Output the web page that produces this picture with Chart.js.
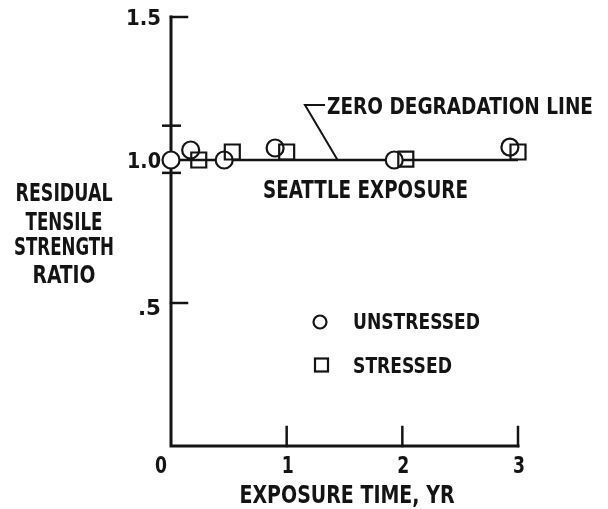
<!DOCTYPE html>
<html><head><meta charset="utf-8">
<script src="https://cdn.jsdelivr.net/npm/chart.js@4"></script>
<style>html,body{margin:0;padding:0;background:#fff}#wrap{width:608px;height:509px;position:relative}</style>
</head><body><div id="wrap"><canvas id="c" width="608" height="509"></canvas></div>
<script>
// ---- data ----
const unstressedX = [0, 0.17, 0.46, 0.90, 1.93, 2.93];
const unstressedY = [1.0, 1.035, 1.0, 1.042, 1.0, 1.045];
const stressedX = [0.24, 0.53, 1.0, 2.03, 3.0];
const stressedY = [1.0, 1.028, 1.028, 1.003, 1.028];
const zeroLineX = [0, 3];
const zeroLineY = [1.0, 1.0];
const xTickValues = [0, 1, 2, 3];
const xTickLabels = ['0', '1', '2', '3'];
const yTickValues = [0.5, 1.0, 1.5];
const yTickLabels = ['.5', '1.0', '1.5'];
const errBarX = 0;
const errBarLow = 0.955;
const errBarHigh = 1.12;
const yTitleLines = ['RESIDUAL', 'TENSILE', 'STRENGTH', 'RATIO'];
const xTitle = 'EXPOSURE TIME, YR';
const annotationText = 'ZERO DEGRADATION LINE';
const annotationAtX = 1.44;
const subtitleText = 'SEATTLE EXPOSURE';
const legendLabels = ['UNSTRESSED', 'STRESSED'];

const INK = '#141414';
const FAM = '"Liberation Sans Narrow", "DejaVu Sans Condensed", sans-serif';

function txt(ctx, s, x, cy, w, align, size) {
  ctx.save();
  ctx.font = 'bold ' + size + 'px ' + FAM;
  const m = ctx.measureText(s).width;
  const sx = w / m;
  ctx.translate(x, cy + size * 0.36);
  ctx.scale(sx, 1);
  ctx.textAlign = align;
  ctx.textBaseline = 'alphabetic';
  ctx.fillStyle = INK;
  ctx.fillText(s, 0, 0);
  ctx.restore();
}

const drawPlugin = {
  id: 'handDrawn',
  beforeDatasetsDraw(chart) {
    const ctx = chart.ctx, xs = chart.scales.x, ys = chart.scales.y;
    const x0 = xs.getPixelForValue(0), y0 = ys.getPixelForValue(0);
    const xMax = xs.getPixelForValue(xs.max), yMax = ys.getPixelForValue(ys.max);
    ctx.save();
    ctx.strokeStyle = INK; ctx.lineCap = 'square';
    ctx.lineWidth = 3;
    ctx.beginPath();
    ctx.moveTo(x0, yMax); ctx.lineTo(x0, y0); ctx.lineTo(xMax, y0);
    ctx.stroke();
    // y ticks pointing right
    ctx.lineWidth = 2.5;
    yTickValues.forEach(v => {
      if (v === 1.0) return;
      const py = ys.getPixelForValue(v);
      ctx.beginPath(); ctx.moveTo(x0, py); ctx.lineTo(x0 + 16, py); ctx.stroke();
    });
    // x ticks pointing up
    xTickValues.forEach(v => {
      if (v === 0) return;
      const px = xs.getPixelForValue(v);
      ctx.beginPath(); ctx.moveTo(px, y0); ctx.lineTo(px, y0 - 19); ctx.stroke();
    });
    // error bar at x=0
    const ex = xs.getPixelForValue(errBarX);
    ctx.lineWidth = 2.5; ctx.lineCap = 'butt';
    [errBarLow, errBarHigh].forEach(v => {
      const py = ys.getPixelForValue(v);
      ctx.beginPath(); ctx.moveTo(ex - 9, py); ctx.lineTo(ex + 10, py); ctx.stroke();
    });
    // leader line for annotation
    const lx = xs.getPixelForValue(annotationAtX), ly = ys.getPixelForValue(zeroLineY[0]);
    ctx.lineWidth = 2;
    ctx.beginPath();
    ctx.moveTo(325, 105); ctx.lineTo(305, 105); ctx.lineTo(lx, ly);
    ctx.stroke();
    ctx.restore();
  },
  afterDraw(chart) {
    const ctx = chart.ctx, xs = chart.scales.x, ys = chart.scales.y;
    // y tick labels
    const yW = {'.5': 23, '1.0': 34, '1.5': 35};
    yTickValues.forEach((v, i) => {
      const py = ys.getPixelForValue(v);
      txt(ctx, yTickLabels[i], 161, py + (v === 0.5 ? 4 : 0), yW[yTickLabels[i]], 'right', 22);
    });
    // x tick labels
    xTickValues.forEach((v, i) => {
      const px = xs.getPixelForValue(v) + (v === 0 ? -10 : 1);
      txt(ctx, xTickLabels[i], px, 465, 12, 'center', 23);
    });
    // axis titles
    txt(ctx, xTitle, 347, 494, 215, 'center', 24);
    const yc = [192, 221, 246, 274], yw = [97, 77, 100, 63];
    yTitleLines.forEach((s, i) => txt(ctx, s, 64, yc[i], yw[i], 'center', 24));
    // annotation + subtitle
    txt(ctx, annotationText, 327, 106, 266, 'left', 23);
    txt(ctx, subtitleText, 263, 189, 205, 'left', 24);
    // legend
    ctx.save();
    ctx.strokeStyle = INK; ctx.lineWidth = 2.2;
    ctx.beginPath(); ctx.arc(320, 322, 6.5, 0, Math.PI * 2); ctx.stroke();
    ctx.strokeRect(315, 358.5, 13, 13);
    ctx.restore();
    txt(ctx, legendLabels[0], 353, 321, 127, 'left', 22);
    txt(ctx, legendLabels[1], 353, 365, 99, 'left', 22);
  }
};

const toPts = (xs, ys) => xs.map((x, i) => ({x: x, y: ys[i]}));

new Chart(document.getElementById('c'), {
  type: 'scatter',
  data: {
    datasets: [
      {
        label: legendLabels[1], data: toPts(stressedX, stressedY),
        pointStyle: 'rect', pointRadius: 10.6, pointHoverRadius: 10.6,
        borderColor: INK, backgroundColor: 'rgba(0,0,0,0)', borderWidth: 2.2,
        showLine: false, clip: false
      },
      {
        label: legendLabels[0], data: toPts(unstressedX, unstressedY),
        pointStyle: 'circle', pointRadius: 8.5, pointHoverRadius: 8.5,
        borderColor: INK, backgroundColor: '#fff', borderWidth: 2.2,
        showLine: false, clip: false
      },
      {
        label: annotationText, data: toPts(zeroLineX, zeroLineY),
        showLine: true, pointRadius: 0, borderColor: INK, borderWidth: 2.5,
        clip: false
      }
    ]
  },
  options: {
    responsive: false, animation: false,
    layout: {padding: {left: 171, right: 90, top: 17, bottom: 63}},
    scales: {
      x: {type: 'linear', min: 0, max: 3, display: false},
      y: {type: 'linear', min: 0, max: 1.5, display: false}
    },
    plugins: {legend: {display: false}, tooltip: {enabled: false}}
  },
  plugins: [drawPlugin]
});
</script></body></html>
